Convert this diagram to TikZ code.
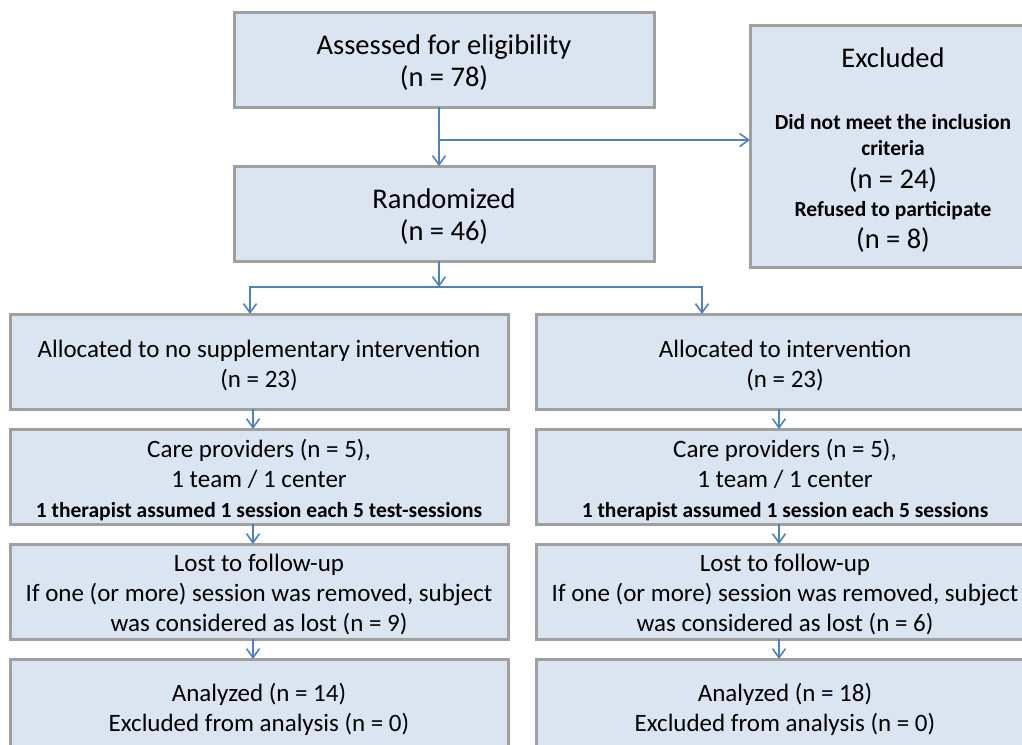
\documentclass[tikz,border=0pt]{standalone}
\usepackage{fontspec}
\setmainfont{Carlito}
\usepackage{xcolor}
\usetikzlibrary{arrows.meta,positioning,calc}
\definecolor{flowfill}{RGB}{219,229,241}
\definecolor{flowedge}{RGB}{160,160,160}
\definecolor{flowblue}{RGB}{79,129,189}
\newcommand{\notetext}[1]{{\fontsize{21.5}{26}\selectfont\bfseries #1}}
\newcommand{\topstrut}[1]{\rule{0pt}{#1pt}}

\begin{document}
\begin{tikzpicture}[
    x=1pt, y=1pt,
    node distance=20pt and 28pt,
    box/.style={draw=flowedge, line width=3pt, fill=flowfill, align=center, minimum width=498pt, minimum height=95pt, inner sep=0pt, outer sep=0pt, font=\fontsize{25}{30}\selectfont},
    topbox/.style={box, minimum width=420pt, font=\fontsize{28.5}{32}\selectfont},
    arrow/.style={-{Straight Barb[length=9pt,width=13pt]}, draw=flowblue, line width=1.6pt}
  ]
    \useasboundingbox (0,0) rectangle (1022,-744);
    \clip (0,0) rectangle (1022,-744);

    \node[topbox] (assess) at (444,-59.5) {\topstrut{25}Assessed for eligibility\\(n = 78)};
    \node[topbox, below=59pt of assess] (rand) {\topstrut{25}Randomized\\(n = 46)};
    \node[box, minimum width=286pt, minimum height=242pt, right=96pt of assess.north east, anchor=north west, yshift=-13pt] (excl)
      {\topstrut{27}{\fontsize{28.5}{32}\selectfont Excluded}\\[32pt]
       \notetext{Did not meet the inclusion}\\[-4pt]
       \notetext{criteria}\\[3pt]
       {\fontsize{28.5}{32}\selectfont (n = 24)}\\[-2pt]
       \notetext{Refused to participate}\\[2pt]
       {\fontsize{28.5}{32}\selectfont (n = 8)}};

    \node[box, below=53pt of rand, xshift=-185pt] (allocA) {\topstrut{26}Allocated to no supplementary intervention\\(n = 23)};
    \node[box, right=of allocA] (allocB) {\topstrut{26}Allocated to intervention\\(n = 23)};
    \node[box, below=of allocA] (careA) {\topstrut{26}Care providers (n = 5),\\1 team / 1 center\\\notetext{1 therapist assumed 1 session each 5 test-sessions}};
    \node[box, below=of allocB] (careB) {\topstrut{26}Care providers (n = 5),\\1 team / 1 center\\\notetext{1 therapist assumed 1 session each 5 sessions}};
    \node[box, below=of careA] (lostA) {\topstrut{24}Lost to follow-up\\If one (or more) session was removed, subject\\was considered as lost (n = 9)};
    \node[box, below=of careB] (lostB) {\topstrut{24}Lost to follow-up\\If one (or more) session was removed, subject\\was considered as lost (n = 6)};
    \node[box, below=of lostA] (anaA) {\topstrut{24}Analyzed (n = 14)\\Excluded from analysis (n = 0)};
    \node[box, below=of lostB] (anaB) {\topstrut{24}Analyzed (n = 18)\\Excluded from analysis (n = 0)};

    % screening and randomisation
    \coordinate (split) at ($([xshift=-5pt]assess.south)!0.56!([xshift=-5pt]rand.north)$);
    \coordinate (fork) at ($([xshift=-5pt]rand.south)+(0,-26)$);
    \draw[arrow] ([xshift=-5pt]assess.south) -- ([xshift=-5pt]rand.north);
    \draw[arrow] (split) -- (split -| excl.west);
    \draw[arrow] ([xshift=-5pt]rand.south) -- (fork);
    \draw[arrow] (fork) -| ([xshift=-9pt]allocA.north);
    \draw[arrow] (fork) -| ([xshift=-83pt]allocB.north);

    % the two arms
    \draw[arrow] ([xshift=-6pt]allocA.south) -- ([xshift=-6pt]careA.north);
    \draw[arrow] ([xshift=-6pt]careA.south) -- ([xshift=-6pt]lostA.north);
    \draw[arrow] ([xshift=-6pt]lostA.south) -- ([xshift=-6pt]anaA.north);
    \draw[arrow] ([xshift=-6pt]allocB.south) -- ([xshift=-6pt]careB.north);
    \draw[arrow] ([xshift=-6pt]careB.south) -- ([xshift=-6pt]lostB.north);
    \draw[arrow] ([xshift=-6pt]lostB.south) -- ([xshift=-6pt]anaB.north);
  \end{tikzpicture}
\end{document}
